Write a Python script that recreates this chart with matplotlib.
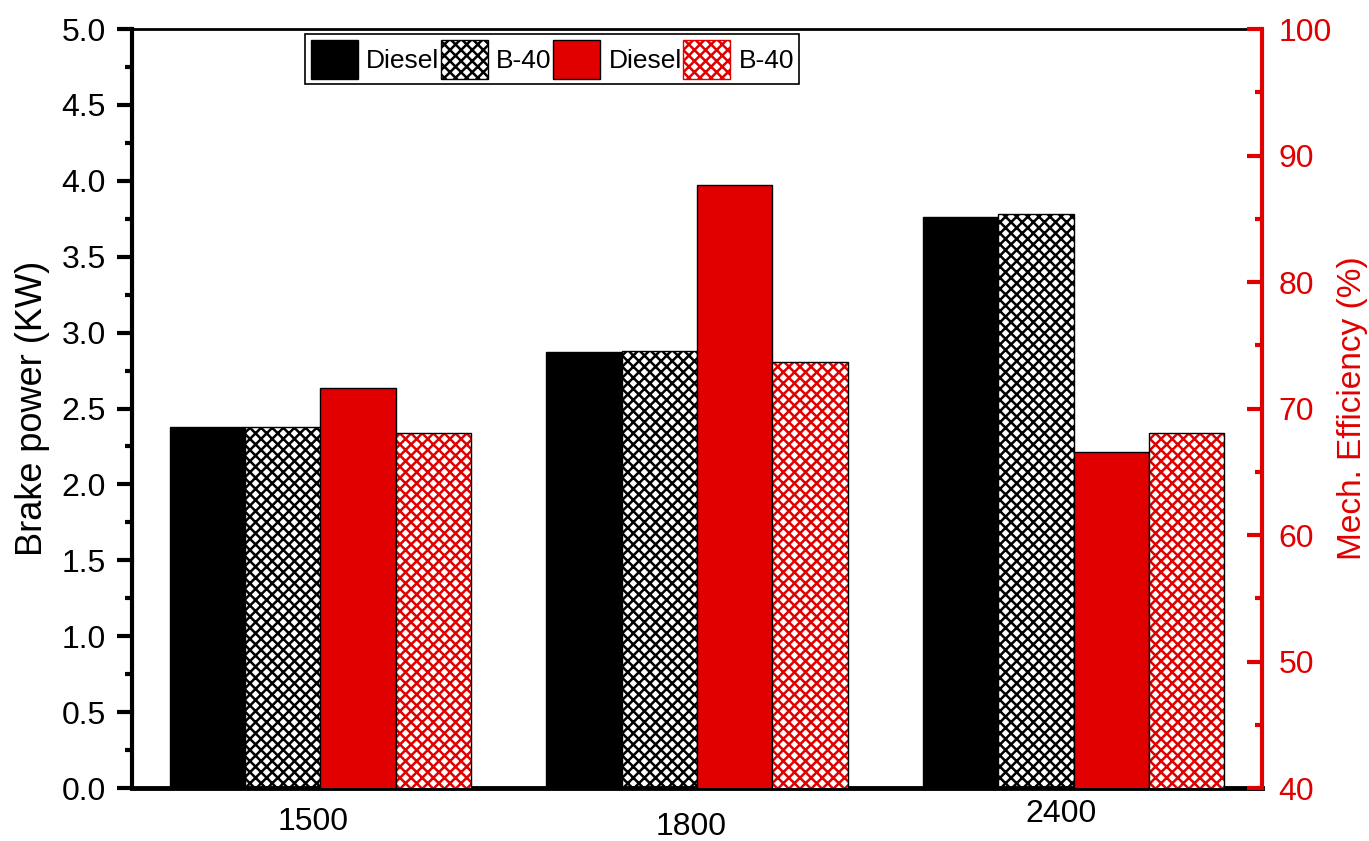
import matplotlib.pyplot as plt
import matplotlib.transforms as mtransforms
from matplotlib.patches import Patch
import numpy as np

plt.rcParams['font.family'] = ['Liberation Sans', 'DejaVu Sans']
plt.rcParams['hatch.linewidth'] = 1.8

# Engine speed groups
speeds = ['1500', '1800', '2400']

# Brake power (kW), left axis
bp_diesel = [2.38, 2.87, 3.76]
bp_b40 = [2.38, 2.88, 3.78]

# Mechanical efficiency (%), right axis
me_diesel = [71.6, 87.7, 66.6]
me_b40 = [68.1, 73.7, 68.1]

red = '#e00000'
hatch = 'xxx'
x = np.arange(len(speeds))
w = 0.2

fig = plt.figure(figsize=(13.69, 8.41), dpi=100)
ax = fig.add_axes([0.0964, 0.063, 0.8254, 0.9025])
ax2 = ax.twinx()

# black bars on the power axis
ax.bar(x - 1.5 * w, bp_diesel, w, color='black', edgecolor='black', linewidth=1)
ax.bar(x - 0.5 * w, bp_b40, w, facecolor='white', edgecolor='black',
       hatch=hatch, linewidth=1)

# red bars on the efficiency axis
ax2.bar(x + 0.5 * w, me_diesel, w, color=red, edgecolor='black', linewidth=1)
ax2.bar(x + 1.5 * w, me_b40, w, facecolor='white', edgecolor=red,
        hatch=hatch, linewidth=0.5)
ax2.bar(x + 1.5 * w, me_b40, w, fill=False, edgecolor='black', linewidth=1)

ax.set_xlim(-0.5, 2.5)
ax.set_ylim(0, 5)
ax2.set_ylim(40, 100)

ax.set_yticks(np.arange(0, 5.01, 0.5))
ax.set_yticks(np.arange(0.25, 5, 0.5), minor=True)
ax.yaxis.set_major_formatter(plt.FormatStrFormatter('%.1f'))
ax2.set_yticks(np.arange(40, 101, 10))
ax2.set_yticks(np.arange(45, 100, 10), minor=True)

ax.set_xticks(x)
ax.set_xticklabels(speeds)
ax.tick_params(axis='x', length=0, pad=14, labelsize=23)
ax.tick_params(axis='y', which='major', direction='out', length=11, width=3,
               labelsize=23, pad=8)
ax.tick_params(axis='y', which='minor', direction='out', length=5, width=3)
ax2.tick_params(axis='y', which='major', direction='in', length=11, width=3,
                colors=red, labelsize=23, pad=12)
ax2.tick_params(axis='y', which='minor', direction='in', length=5, width=3,
                colors=red)

# spines
ax.spines['left'].set_linewidth(3)
ax.spines['bottom'].set_linewidth(3.5)
ax.spines['top'].set_linewidth(2)
ax.spines['right'].set_visible(False)
for side in ['left', 'top', 'bottom']:
    ax2.spines[side].set_visible(False)
ax2.spines['right'].set_color(red)
ax2.spines['right'].set_linewidth(3)

ax.set_ylabel('Brake power (KW)', fontsize=26, labelpad=8)
ax2.set_ylabel('Mech. Efficiency (%)', fontsize=24, color=red, labelpad=4)

# small per-label nudges of the speed labels (points)
nudges = [(-5, 0), (-4, -3), (-9, 6)]
for lab, (dx, dy) in zip(ax.get_xticklabels(), nudges):
    off = mtransforms.ScaledTranslation(dx / 72, dy / 72, fig.dpi_scale_trans)
    lab.set_transform(lab.get_transform() + off)

handles = [
    Patch(facecolor='black', edgecolor='black'),
    Patch(facecolor='white', edgecolor='black', hatch=hatch),
    Patch(facecolor=red, edgecolor='black'),
    Patch(facecolor='white', edgecolor=red, hatch=hatch),
]
labels = ['Diesel', 'B-40', 'Diesel', 'B-40']
leg = ax2.legend(handles, labels, loc='upper center', bbox_to_anchor=(0.372, 0.993),
                 ncol=4, fontsize=19, frameon=True, fancybox=False,
                 edgecolor='black', framealpha=1, handlelength=1.8,
                 handleheight=1.9, handletextpad=0.3, columnspacing=0.05,
                 borderpad=0.2, borderaxespad=0)
leg.get_frame().set_linewidth(1.2)
leg.set_zorder(10)

fig.savefig('out.png', dpi=100)
